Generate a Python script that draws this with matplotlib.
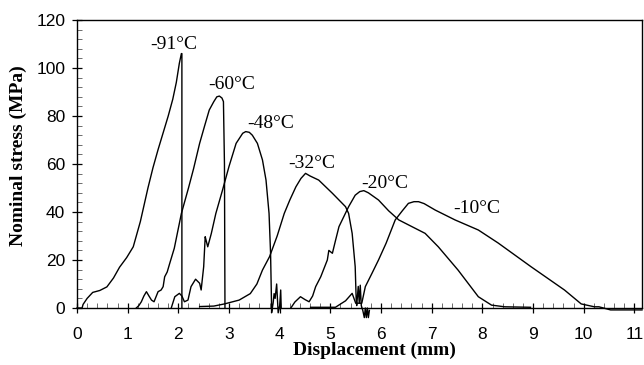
import matplotlib
matplotlib.use("Agg")
import matplotlib.pyplot as plt
from matplotlib.ticker import MultipleLocator

# stress-displacement curves (x in mm, y in MPa)
X_91 = [0.0, 0.10, 0.12, 0.20, 0.31, 0.45, 0.59, 0.72, 0.84, 0.98, 1.11, 1.25, 1.40, 1.50, 1.60, 1.70, 1.80, 1.89, 1.96, 2.02, 2.06, 2.07, 2.07]
Y_91 = [0.0, 0.0, 1.5, 4.0, 6.5, 7.3, 8.8, 12.5, 17.0, 21.0, 25.5, 36.0, 50.0, 58.5, 66.0, 73.0, 80.0, 87.0, 94.0, 102.0, 106.0, 106.0, 0.0]

X_60 = [1.17, 1.22, 1.27, 1.32, 1.37, 1.42, 1.47, 1.52, 1.60, 1.66, 1.70, 1.73, 1.78, 1.83, 1.92, 2.06, 2.20, 2.30, 2.42, 2.52, 2.61, 2.70, 2.76, 2.81, 2.86, 2.89, 2.91, 2.92]
Y_60 = [0.0, 1.0, 2.6, 5.0, 6.8, 5.0, 3.3, 2.6, 6.8, 7.5, 8.9, 13.0, 15.0, 18.6, 24.9, 39.4, 50.0, 58.0, 68.6, 76.0, 82.5, 86.0, 88.0, 88.3, 87.5, 86.0, 60.0, 0.0]

X_48 = [1.86, 1.93, 2.02, 2.07, 2.12, 2.19, 2.25, 2.34, 2.42, 2.45, 2.50, 2.53, 2.55, 2.58, 2.65, 2.74, 2.87, 3.00, 3.14, 3.27, 3.33, 3.40, 3.46, 3.56, 3.66, 3.73, 3.79, 3.82, 3.84, 3.84, 3.87, 3.89, 3.91, 3.94, 3.97, 4.00, 4.02, 4.03]
Y_48 = [0.0, 4.7, 6.1, 5.0, 2.6, 3.3, 8.9, 12.0, 10.3, 7.5, 17.2, 29.7, 28.0, 25.5, 31.0, 39.4, 49.0, 59.0, 68.6, 72.8, 73.5, 73.2, 72.0, 68.6, 61.7, 53.3, 39.4, 22.8, 0.5, -2.0, 2.0, 6.0, 4.0, 10.0, -2.0, 1.0, 7.5, 0.0]

X_32 = [2.42, 2.70, 2.91, 3.20, 3.42, 3.55, 3.66, 3.80, 3.95, 4.09, 4.20, 4.32, 4.42, 4.51, 4.60, 4.77, 5.04, 5.30, 5.36, 5.43, 5.46, 5.49, 5.51, 5.52, 5.55, 5.57, 5.59, 5.61, 5.64, 5.67, 5.69, 5.71, 5.73, 5.75, 5.77]
Y_32 = [0.6, 0.8, 1.7, 3.3, 6.0, 10.0, 15.8, 21.4, 30.0, 39.4, 45.0, 50.5, 54.0, 56.1, 55.0, 53.3, 47.8, 42.2, 39.4, 31.1, 24.2, 17.2, 3.3, 1.0, 9.0, 2.0, 9.5, 1.0, -1.0, -4.0, 0.0, -4.0, 0.0, -4.0, -1.0]

X_20 = [4.22, 4.30, 4.41, 4.50, 4.58, 4.65, 4.71, 4.81, 4.94, 4.97, 5.04, 5.10, 5.17, 5.36, 5.49, 5.58, 5.66, 5.75, 5.95, 6.15, 6.35, 6.60, 6.87, 7.13, 7.52, 7.92, 8.18, 8.44, 8.95]
Y_20 = [0.0, 2.5, 4.7, 3.5, 2.6, 5.0, 8.9, 13.0, 20.0, 24.0, 22.8, 28.0, 33.9, 42.2, 47.0, 48.5, 48.9, 48.0, 45.0, 40.5, 36.7, 34.0, 31.1, 25.5, 15.8, 4.7, 1.2, 0.5, 0.3]

X_10 = [4.61, 5.10, 5.30, 5.43, 5.50, 5.62, 5.69, 5.82, 5.95, 6.10, 6.28, 6.42, 6.54, 6.65, 6.74, 6.85, 7.07, 7.46, 7.92, 8.31, 8.96, 9.62, 9.95, 10.21, 10.30, 10.53, 11.15]
Y_10 = [0.3, 0.3, 3.0, 6.1, 2.0, 2.0, 8.9, 14.4, 20.0, 27.0, 36.7, 40.5, 43.6, 44.3, 44.3, 43.5, 40.8, 36.7, 32.5, 27.1, 17.2, 7.5, 1.7, 0.5, 0.5, -0.8, -0.8]

CURVES = [(X_91, Y_91), (X_60, Y_60), (X_48, Y_48), (X_32, Y_32), (X_20, Y_20), (X_10, Y_10)]

LABELS = ["-91°C", "-60°C", "-48°C", "-32°C", "-20°C", "-10°C"]
LABEL_X = [1.91, 3.06, 3.83, 4.64, 6.07, 7.88]
LABEL_Y = [109.6, 93.0, 77.0, 60.3, 51.7, 41.5]

SERIF = "Liberation Serif"
SANS = "Liberation Sans"

fig = plt.figure(figsize=(6.44, 3.65), dpi=100)
ax = fig.add_axes([77 / 644, 57 / 365, 565 / 644, 288 / 365])

for xs, ys in CURVES:
    ax.plot(xs, ys, color="black", lw=1.0, clip_on=False)

for text, x, y in zip(LABELS, LABEL_X, LABEL_Y):
    ax.text(x, y, text, ha="center", va="center", fontsize=14, family=SERIF)

ax.set_xlim(0, 11.15)
ax.set_ylim(0, 120)
ax.xaxis.set_major_locator(MultipleLocator(1))
ax.xaxis.set_minor_locator(MultipleLocator(0.2))
ax.yaxis.set_major_locator(MultipleLocator(20))
ax.yaxis.set_minor_locator(MultipleLocator(4))

ax.tick_params(which="major", direction="inout", length=7, width=0.9, labelsize=12.5)
ax.tick_params(which="minor", direction="in", length=3.5, width=0.6, color="#555555")
ax.tick_params(axis="x", which="major", pad=10)
ax.tick_params(axis="y", which="major", pad=5)
for lab in ax.get_xticklabels() + ax.get_yticklabels():
    lab.set_family(SANS)

for spine in ax.spines.values():
    spine.set_linewidth(1.0)

ax.set_xlabel("Displacement (mm)", fontsize=14, fontweight="bold", family=SERIF)
ax.set_ylabel("Nominal stress (MPa)", fontsize=14, fontweight="bold", family=SERIF)
ax.xaxis.set_label_coords(0.527, -0.118)
ax.yaxis.set_label_coords(-0.088, 0.528)

fig.savefig("out.png", dpi=100)
